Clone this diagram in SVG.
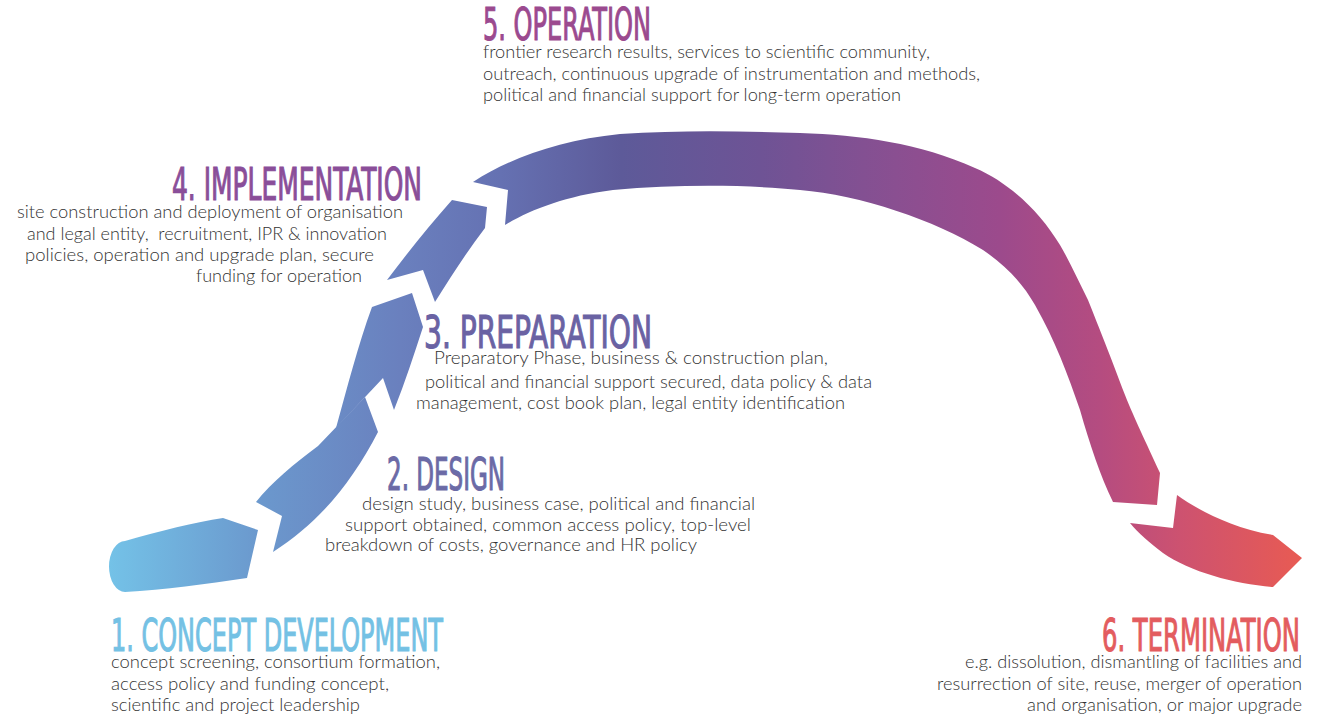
<svg xmlns="http://www.w3.org/2000/svg" width="1317" height="715" viewBox="0 0 1317 715">
<defs>
<linearGradient id="band" gradientUnits="userSpaceOnUse" x1="105" y1="0" x2="1305" y2="0">
<stop offset="0" stop-color="#74c3e8"/>
<stop offset="0.13" stop-color="#6b98cd"/>
<stop offset="0.246" stop-color="#6a80be"/>
<stop offset="0.33" stop-color="#6571b2"/>
<stop offset="0.43" stop-color="#5d5a99"/>
<stop offset="0.546" stop-color="#6e5395"/>
<stop offset="0.66" stop-color="#8a4f91"/>
<stop offset="0.746" stop-color="#9c4a8c"/>
<stop offset="0.83" stop-color="#b54c80"/>
<stop offset="0.896" stop-color="#cd5270"/>
<stop offset="1" stop-color="#e95b52"/>
</linearGradient>
<style>
.piece{fill:url(#band);}
.title{font-family:"DejaVu Sans Condensed","Liberation Sans Narrow","Liberation Sans",sans-serif;font-size:44px;stroke-width:1.1px;}
.body{font-family:Lato,"Open Sans","Liberation Sans",sans-serif;font-size:17px;font-weight:300;fill:#333333;white-space:pre;}
</style>
</defs>
<rect width="1317" height="715" fill="#ffffff"/>
<g id="connectors">
<path id="piece-1" class="piece" d="M125 541 C160 531 195 522 223 518 L258 530 L247 578 C205 584 165 590 125 592 A16 25.5 0 0 1 125 541 Z"/>
<path id="piece-2" class="piece" d="M256 502 L282 516 L273 552 C320 522 352 482 378 432 L365 397 L318 446 C294 464 272 482 256 502 Z"/>
<path id="piece-3" class="piece" d="M336 428 L383 378 L394 410 C405 382 414 355 423 327 L412 293 L372 307 C358 345 348 385 336 428 Z"/>
<path id="piece-4" class="piece" d="M387 280 L423 270 L435 302 C452 275 468 250 485 228 L487 207 L452 200 C430 225 408 252 387 280 Z"/>
<path id="piece-5" class="piece" d="M473 182 L508 190 L505 225 C530 210 565 196 613 190 C680 184 750 185 800 190 C860 195 935 220 983 250 C1005 265 1022 282 1035 305 C1055 340 1068 375 1080 410 C1090 445 1100 475 1113 502 L1157 505 L1160 473 C1145 440 1135 420 1125 395 C1110 355 1100 330 1088 300 C1078 280 1070 262 1060 245 C1040 212 1010 183 975 168 C920 143 860 135 800 133 C740 131 680 130 620 134 C560 140 510 158 473 182 Z"/>
<path id="piece-6" class="piece" d="M1130 523 L1173 528 L1177 495 C1195 508 1230 528 1273 535 L1302 558 L1273 587 C1235 584 1190 572 1163 553 C1150 543 1138 533 1130 523 Z"/>
</g>
<g id="stage-5">
<text class="title" x="483" y="40" textLength="168" lengthAdjust="spacingAndGlyphs" fill="#9b4a8f" stroke="#9b4a8f">5. OPERATION</text>
<text class="body" x="483" y="58" textLength="447" lengthAdjust="spacingAndGlyphs">frontier research results, services to scientific community,</text>
<text class="body" x="483" y="80" textLength="497" lengthAdjust="spacingAndGlyphs">outreach, continuous upgrade of instrumentation and methods,</text>
<text class="body" x="483" y="101" textLength="418" lengthAdjust="spacingAndGlyphs">political and financial support for long-term operation</text>
</g>
<g id="stage-4">
<text class="title" x="172" y="200" textLength="250" lengthAdjust="spacingAndGlyphs" fill="#8a4e99" stroke="#8a4e99">4. IMPLEMENTATION</text>
<text class="body" x="17" y="218" textLength="386" lengthAdjust="spacingAndGlyphs">site construction and deployment of organisation</text>
<text class="body" x="27" y="240" textLength="360" lengthAdjust="spacingAndGlyphs">and legal entity,  recruitment, IPR &amp; innovation</text>
<text class="body" x="25" y="261" textLength="349" lengthAdjust="spacingAndGlyphs">policies, operation and upgrade plan, secure</text>
<text class="body" x="196" y="282" textLength="166" lengthAdjust="spacingAndGlyphs">funding for operation</text>
</g>
<g id="stage-3">
<text class="title" x="424" y="348" textLength="228" lengthAdjust="spacingAndGlyphs" fill="#6a62a3" stroke="#6a62a3">3. PREPARATION</text>
<text class="body" x="434" y="364" textLength="394" lengthAdjust="spacingAndGlyphs">Preparatory Phase, business &amp; construction plan,</text>
<text class="body" x="425" y="388" textLength="447" lengthAdjust="spacingAndGlyphs">political and financial support secured, data policy &amp; data</text>
<text class="body" x="416" y="409" textLength="429" lengthAdjust="spacingAndGlyphs">management, cost book plan, legal entity identification</text>
</g>
<g id="stage-2">
<text class="title" x="387" y="490" textLength="118" lengthAdjust="spacingAndGlyphs" fill="#6b6aa6" stroke="#6b6aa6">2. DESIGN</text>
<text class="body" x="362" y="510" textLength="393" lengthAdjust="spacingAndGlyphs">design study, business case, political and financial</text>
<text class="body" x="345" y="531" textLength="406" lengthAdjust="spacingAndGlyphs">support obtained, common access policy, top-level</text>
<text class="body" x="325" y="551" textLength="372" lengthAdjust="spacingAndGlyphs">breakdown of costs, governance and HR policy</text>
</g>
<g id="stage-1">
<text class="title" x="111" y="651" textLength="332" lengthAdjust="spacingAndGlyphs" fill="#74c1e4" stroke="#74c1e4">1. CONCEPT DEVELOPMENT</text>
<text class="body" x="111" y="668" textLength="329" lengthAdjust="spacingAndGlyphs">concept screening, consortium formation,</text>
<text class="body" x="111" y="690" textLength="278" lengthAdjust="spacingAndGlyphs">access policy and funding concept,</text>
<text class="body" x="111" y="711" textLength="249" lengthAdjust="spacingAndGlyphs">scientific and project leadership</text>
</g>
<g id="stage-6">
<text class="title" x="1102" y="651" textLength="198" lengthAdjust="spacingAndGlyphs" fill="#e35c5f" stroke="#e35c5f">6. TERMINATION</text>
<text class="body" x="965" y="668" textLength="337" lengthAdjust="spacingAndGlyphs">e.g. dissolution, dismantling of facilities and</text>
<text class="body" x="937" y="690" textLength="365" lengthAdjust="spacingAndGlyphs">resurrection of site, reuse, merger of operation</text>
<text class="body" x="1027" y="711" textLength="275" lengthAdjust="spacingAndGlyphs">and organisation, or major upgrade</text>
</g>
</svg>
